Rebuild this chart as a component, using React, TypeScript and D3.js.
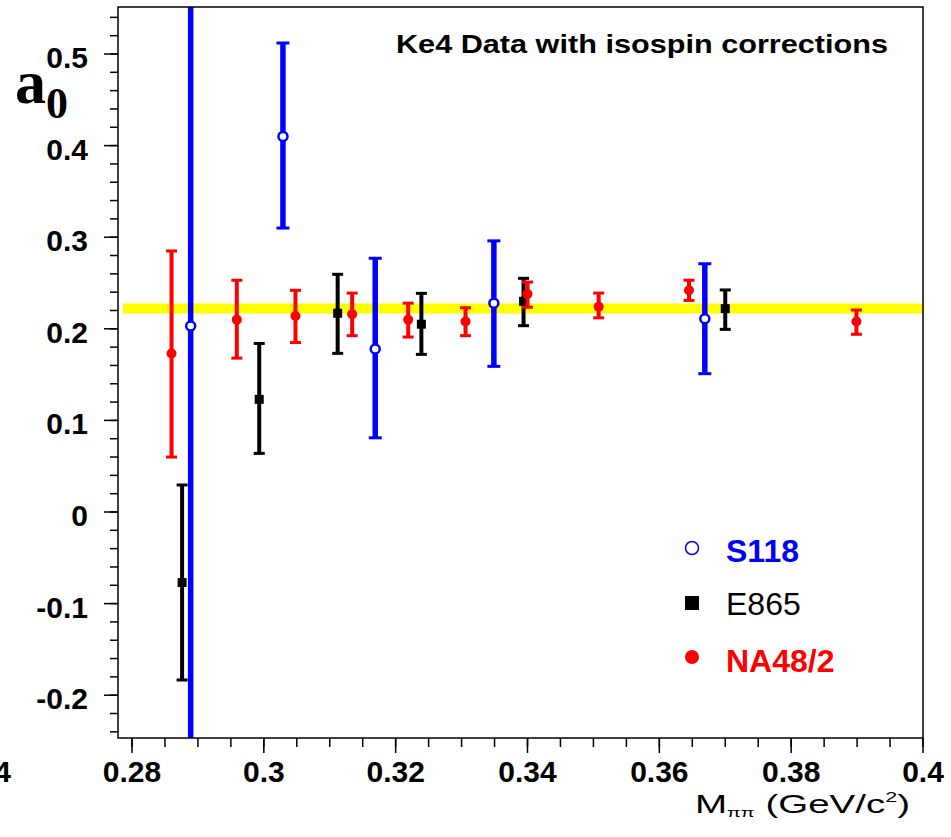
import React from "react";
import * as d3 from "d3";

// ---- Data ----
const s118X = [0.2889, 0.3029, 0.3169, 0.3349, 0.3669];
const s118Y = [0.203, 0.410, 0.178, 0.228, 0.211];
const s118Hi = [1.0, 0.512, 0.277, 0.296, 0.271];
const s118Lo = [-1.0, 0.310, 0.081, 0.159, 0.151];

const e865X = [0.2876, 0.2993, 0.3112, 0.3239, 0.3394, 0.3700];
const e865Y = [-0.077, 0.123, 0.217, 0.205, 0.230, 0.222];
const e865Hi = [0.0295, 0.184, 0.2595, 0.2387, 0.2551, 0.2424];
const e865Lo = [-0.1834, 0.064, 0.1732, 0.1721, 0.2034, 0.1994];

const na48X = [0.2860, 0.2959, 0.3048, 0.3134, 0.3219, 0.3306, 0.3400, 0.3508, 0.3645, 0.3899];
const na48Y = [0.173, 0.210, 0.214, 0.216, 0.210, 0.208, 0.238, 0.224, 0.242, 0.208];
const na48Hi = [0.285, 0.253, 0.242, 0.239, 0.228, 0.223, 0.251, 0.239, 0.253, 0.2205];
const na48Lo = [0.060, 0.168, 0.185, 0.1925, 0.191, 0.1925, 0.2235, 0.212, 0.231, 0.194];

const bandValue = 0.2222;

const xMajorTicks = [0.28, 0.3, 0.32, 0.34, 0.36, 0.38, 0.4];
const xTickLabels = ["0.28", "0.3", "0.32", "0.34", "0.36", "0.38", "0.4"];
const yMajorTicks = [-0.2, -0.1, 0, 0.1, 0.2, 0.3, 0.4, 0.5];
const yTickLabels = ["-0.2", "-0.1", "0", "0.1", "0.2", "0.3", "0.4", "0.5"];

const legendLabels = ["S118", "E865", "NA48/2"];
const title = "Ke4 Data with isospin corrections";

// ---- Layout ----
const W = 951, H = 837;
const left = 118, right = 923, top = 7, bottom = 738;

const x = d3.scaleLinear().domain([0.28, 0.4]).range([132, 923]);
const y = d3.scaleLinear().domain([0, 0.5]).range([512, 54]);

const sans = "'Liberation Sans', Arial, Helvetica, sans-serif";
const serif = "'Liberation Serif', 'Times New Roman', serif";

const xMinor = d3.range(0, 25).map((i) => 0.28 + i * 0.005).filter((v) => x(v) >= left && x(v) <= right + 0.5);
const yMinor = d3.range(-15, 30).map((i) => i * 0.02).filter((v) => y(v) <= bottom && y(v) >= top);

function ErrBars({ xs, ys, hi, lo, color, sw, cap }: any) {
  return (
    <g>
      {xs.map((xv: number, i: number) => {
        const cx = x(xv);
        return (
          <g key={i}>
            <line x1={cx} x2={cx} y1={y(hi[i])} y2={y(lo[i])} stroke={color} strokeWidth={sw} />
            <line x1={cx - cap / 2} x2={cx + cap / 2} y1={y(hi[i])} y2={y(hi[i])} stroke={color} strokeWidth={3} />
            <line x1={cx - cap / 2} x2={cx + cap / 2} y1={y(lo[i])} y2={y(lo[i])} stroke={color} strokeWidth={3} />
          </g>
        );
      })}
    </g>
  );
}

export default function App() {
  return (
    <svg width={W} height={H} style={{ position: "absolute", left: 0, top: 0, background: "#fff" }}>
      <defs>
        <clipPath id="plotClip">
          <rect x={left} y={top} width={right - left} height={bottom - top} />
        </clipPath>
      </defs>
      <rect x={0} y={0} width={W} height={H} fill="#fff" />

      {/* yellow band */}
      <line x1={left + 5} x2={right} y1={y(bandValue)} y2={y(bandValue)} stroke="#ffff00" strokeWidth={10} />

      <g clipPath="url(#plotClip)">
        <ErrBars xs={e865X} ys={e865Y} hi={e865Hi} lo={e865Lo} color="#000" sw={4} cap={11} />
        {e865X.map((xv, i) => (
          <rect key={i} x={x(xv) - 4.5} y={y(e865Y[i]) - 4.5} width={9} height={9} fill="#000" />
        ))}
        <ErrBars xs={na48X} ys={na48Y} hi={na48Hi} lo={na48Lo} color="#ff0000" sw={4} cap={11} />
        {na48X.map((xv, i) => (
          <circle key={i} cx={x(xv)} cy={y(na48Y[i])} r={5} fill="#ff0000" />
        ))}
        <ErrBars xs={s118X} ys={s118Y} hi={s118Hi} lo={s118Lo} color="#0000ff" sw={5.5} cap={13} />
        {s118X.map((xv, i) => (
          <circle key={i} cx={x(xv)} cy={y(s118Y[i])} r={4.5} fill="#fff" stroke="#0000ff" strokeWidth={2.5} />
        ))}
      </g>

      {/* frame */}
      <rect x={left} y={top} width={right - left} height={bottom - top} fill="none" stroke="#000" strokeWidth={1.5} />

      {/* y ticks */}
      {yMinor.map((v, i) => (
        <line key={"ym" + i} x1={left - 8} x2={left} y1={y(v)} y2={y(v)} stroke="#000" strokeWidth={1.5} />
      ))}
      {yMajorTicks.map((v, i) => (
        <g key={"yM" + i}>
          <line x1={left - 14} x2={left} y1={y(v)} y2={y(v)} stroke="#000" strokeWidth={1.5} />
          <text x={88} y={y(v) + 14} textAnchor="end" fontFamily={sans} fontWeight="bold" fontSize={30} fill="#000">
            {yTickLabels[i]}
          </text>
        </g>
      ))}

      {/* x ticks */}
      {xMinor.map((v, i) => (
        <line key={"xm" + i} x1={x(v)} x2={x(v)} y1={bottom} y2={bottom + 9} stroke="#000" strokeWidth={1.5} />
      ))}
      {xMajorTicks.map((v, i) => (
        <g key={"xM" + i}>
          <line x1={x(v)} x2={x(v)} y1={bottom} y2={bottom + 15} stroke="#000" strokeWidth={1.5} />
          <text x={x(v)} y={782} textAnchor="middle" fontFamily={sans} fontWeight="bold" fontSize={30} fill="#000">
            {xTickLabels[i]}
          </text>
        </g>
      ))}
      <text x={11} y={782} textAnchor="end" fontFamily={sans} fontWeight="bold" fontSize={30} fill="#000">0.24</text>

      {/* y axis label a0 */}
      <text x={15} y={103} fontFamily={serif} fontWeight="bold" fontSize={62} fill="#000">a</text>
      <text x={46} y={118} fontFamily={serif} fontWeight="bold" fontSize={44} fill="#000">0</text>

      {/* x axis label */}
      <text x={695} y={813} fontFamily={sans} fontSize={25} fill="#000" textLength={215} lengthAdjust="spacingAndGlyphs">
        M<tspan fontSize={13} dy={4}>ππ</tspan>
        <tspan dy={-4}> (GeV/c</tspan>
        <tspan fontSize={14} dy={-11}>2</tspan>
        <tspan dy={11}>)</tspan>
      </text>

      {/* title */}
      <text x={396} y={53} fontFamily={sans} fontWeight="bold" fontSize={26} fill="#000" textLength={492} lengthAdjust="spacingAndGlyphs">
        {title}
      </text>

      {/* legend */}
      <circle cx={692} cy={548} r={6.5} fill="none" stroke="#0000ff" strokeWidth={1.5} />
      <text x={726} y={562} fontFamily={sans} fontWeight="bold" fontSize={32} fill="#0000ff">{legendLabels[0]}</text>
      <rect x={685} y={596} width={14} height={14} fill="#000" />
      <text x={726} y={615} fontFamily={sans} fontSize={32} fill="#000">{legendLabels[1]}</text>
      <circle cx={692} cy={657} r={7} fill="#ff0000" />
      <text x={726} y={672} fontFamily={sans} fontWeight="bold" fontSize={32} fill="#ff0000">{legendLabels[2]}</text>
    </svg>
  );
}
